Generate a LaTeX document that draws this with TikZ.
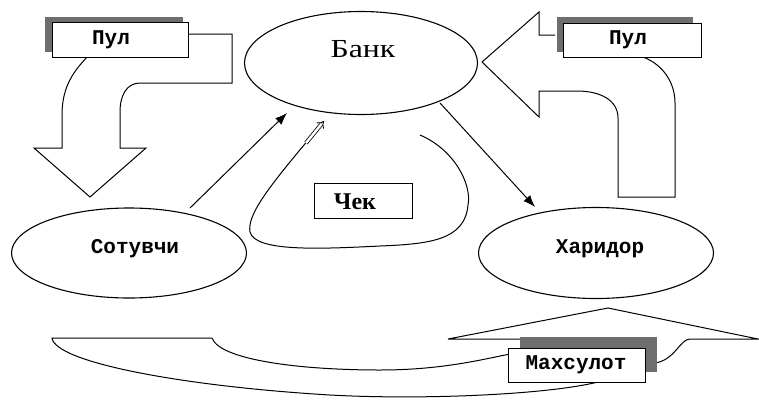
\documentclass[tikz,border=0pt]{standalone}
\usepackage{fontspec}
\usetikzlibrary{shapes.geometric,arrows.meta,calc}
\newfontfamily\bankfont[FakeStretch=1.22]{Liberation Serif}
\newfontfamily\chekfont{Liberation Serif}
\newfontfamily\labfont{Liberation Mono}
\definecolor{shade}{RGB}{110,110,110}
\begin{document}
\begin{tikzpicture}[x=1pt,y=-1pt,line width=1pt,
  ell/.style={draw,ellipse,inner sep=0pt,line width=1.1pt},
  lab/.style={font=\labfont\bfseries\fontsize{21}{21}\selectfont,inner sep=0pt},
  labbox/.style={draw,fill=white,line width=1pt,inner sep=0pt},
  shadowbox/.style={fill=shade,draw=none},
  blockarrow/.style={draw,line width=1pt,line join=miter},
  tip/.style={-{Latex[length=12pt,width=9pt]}}]
\useasboundingbox (0,0) rectangle (759,399);

% ellipses
\node[ell,minimum width=233pt,minimum height=103pt] (bank) at (361,63) {};
\node[font=\bankfont\fontsize{26}{26}\selectfont,inner sep=0pt] (banktext) at (363,49) {Банк};
\node[ell,minimum width=235pt,minimum height=90pt] (seller) at (129,253) {};
\node[lab] (sellertext) at (135,249) {Сотувчи};
\node[ell,minimum width=235pt,minimum height=91pt] (buyer) at (596,253) {};
\node[lab] (buyertext) at (600,249) {Харидор};

% arrows seller->bank, bank->buyer
\draw[tip] ($(seller.center)+(61,-45)$) -- ($(bank.center)+(-74,50)$);
\draw[tip] ($(bank.center)+(79,40)$) -- ($(buyer.center)+(-61,-46)$);

% cheque loop
\draw (420,135) .. controls (455,150) and (472,185) .. (468,205)
  .. controls (465,240) and (430,244) .. (380,246)
  .. controls (320,249) and (255,252) .. (250,232)
  .. controls (247,215) and (268,188) .. (309,139);
\draw[double,double distance=2.5pt,line width=0.8pt,-{Implies}] (306,143) -- (324,121);
\node[draw,line width=1pt,minimum width=98pt,minimum height=35pt,inner sep=0pt] (chekbox) at (363,200.5) {};
\node[font=\chekfont\bfseries\fontsize{24}{24}\selectfont,inner sep=0pt] (chektext) at (355,202) {Чек};

% left money arrow
\draw[blockarrow] (185,34) -- (232,34) -- (232,83) -- (140,83)
  .. controls (127,83) and (120,95) .. (120,112) -- (120,148) -- (146,148)
  -- (90,197) -- (34,148) -- (62,148) -- (62,115)
  .. controls (62,85) and (75,70) .. (88,56);
\fill[shadowbox] (45,17) rectangle (183,52);
\node[labbox,minimum width=136pt,minimum height=35pt] (mon1box) at (120,39.5) {};
\node[lab] (mon1text) at (111,40) {Пул};

% right money arrow
\draw[blockarrow] (555,35) -- (539,35) -- (539,12) -- (482,62) -- (539,117)
  -- (539,91) -- (577,91) .. controls (600,91) and (618,100) .. (618,118)
  -- (618,197) -- (675,197) -- (675,103)
  .. controls (675,80) and (660,62) .. (640,56);
\fill[shadowbox] (557,17) rectangle (693,52);
\node[labbox,minimum width=138pt,minimum height=34pt] (mon2box) at (632,40) {};
\node[lab] (mon2text) at (628,40) {Пул};

% bottom goods arrow
\draw[blockarrow] (510,354) .. controls (480,360) and (440,370) .. (380,370)
  .. controls (300,370) and (220,360) .. (212,338) -- (52,338)
  .. controls (55,362) and (180,386) .. (330,395)
  .. controls (420,400) and (550,395) .. (602,381);
\draw[blockarrow] (655,363) .. controls (675,360) and (680,339) .. (690,339)
  -- (758,339) -- (608,308) -- (448,339) -- (522,339);
\fill[shadowbox] (520,337) rectangle (657,372);
\node[labbox,minimum width=137pt,minimum height=34pt] (goodsbox) at (576.5,365) {};
\node[lab] (goodstext) at (576,365) {Махсулот};
\end{tikzpicture}
\end{document}
